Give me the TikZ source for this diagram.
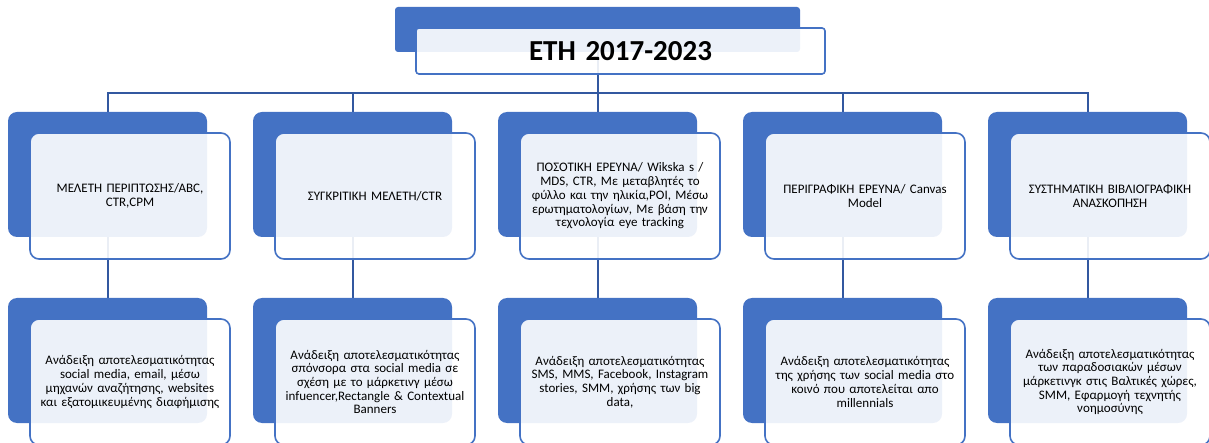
\documentclass[tikz,border=0pt]{standalone}
\usepackage{fontspec}
\setmainfont{Carlito}
\usetikzlibrary{positioning,backgrounds}
\definecolor{accent}{RGB}{68,114,196}
\definecolor{linkblue}{RGB}{50,88,160}

\begin{document}
\begin{tikzpicture}
[x=1pt,y=-1pt,
back/.style={fill=accent,rounded corners=9pt,minimum width=199pt,minimum height=125pt,inner sep=0pt},
front/.style={draw=accent,line width=1.6pt,fill=white,fill opacity=0.9,text opacity=1,rounded corners=9pt,minimum width=200pt,minimum height=126pt,text width=186pt,inner xsep=7pt,align=center,font=\fontsize{13}{13.7}\selectfont},
link/.style={draw=linkblue,line width=2pt},]

\useasboundingbox (0,0) rectangle (1209,443);

%Column centres and rows
\def\ca{107.5}
\def\cb{352.5}
\def\cc{597.5}
\def\cd{842.5}
\def\ce{1087.5}
\def\ra{174.5}
\def\rb{360.5}
\def\dx{22.5}
\def\dy{21.5}

%Title
\node (bt) at (597.5,29.5)[back,minimum width=405pt,minimum height=45pt,rounded corners=3pt] {};
\node (t) at (620.5,51)[front,minimum width=409pt,minimum height=46pt,text width=395pt,rounded corners=3pt,font=\fontsize{29}{32}\selectfont\bfseries] {ETH 2017-2023};

%Methods row
\node (bm1) at (\ca,\ra)[back] {};
\node (m1) at (\ca+\dx,\ra+\dy)[front] {ΜΕΛΕΤΗ ΠΕΡΙΠΤΩΣΗΣ/ABC,\\CTR,CPM};
\node (bm2) at (\cb,\ra)[back] {};
\node (m2) at (\cb+\dx,\ra+\dy)[front] {ΣΥΓΚΡΙΤΙΚΗ ΜΕΛΕΤΗ/CTR};
\node (bm3) at (\cc,\ra)[back] {};
\node (m3) at (\cc+\dx,\ra+\dy)[front] {ΠΟΣΟΤΙΚΗ ΕΡΕΥΝΑ/ Wikska s /\\MDS, CTR, Με μεταβλητές το\\φύλλο και την ηλικία,POI, Μέσω\\ερωτηματολογίων, Με βάση την\\τεχνολογία eye tracking};
\node (bm4) at (\cd,\ra)[back] {};
\node (m4) at (\cd+\dx,\ra+\dy)[front] {ΠΕΡΙΓΡΑΦΙΚΗ ΕΡΕΥΝΑ/ Canvas\\Model};
\node (bm5) at (\ce,\ra)[back] {};
\node (m5) at (\ce+\dx,\ra+\dy)[front] {ΣΥΣΤΗΜΑΤΙΚΗ ΒΙΒΛΙΟΓΡΑΦΙΚΗ\\ΑΝΑΣΚΟΠΗΣΗ};

%Results row
\node (br1) at (\ca,\rb)[back] {};
\node (r1) at (\ca+\dx,\rb+\dy)[front] {Ανάδειξη αποτελεσματικότητας\\social media, email, μέσω\\μηχανών αναζήτησης, websites\\και εξατομικευμένης διαφήμισης};
\node (br2) at (\cb,\rb)[back] {};
\node (r2) at (\cb+\dx,\rb+\dy)[front] {Ανάδειξη αποτελεσματικότητας\\σπόνσορα στα social media σε\\σχέση με το μάρκετινγ μέσω\\infuencer,Rectangle \& Contextual\\Banners};
\node (br3) at (\cc,\rb)[back] {};
\node (r3) at (\cc+\dx,\rb+\dy)[front] {Ανάδειξη αποτελεσματικότητας\\SMS, MMS, Facebook, Instagram\\stories, SMM, χρήσης των big\\data,};
\node (br4) at (\cd,\rb)[back] {};
\node (r4) at (\cd+\dx,\rb+\dy)[front] {Ανάδειξη αποτελεσματικότητας\\της χρήσης των social media στο\\κοινό που αποτελείται απο\\millennials};
\node (br5) at (\ce,\rb)[back] {};
\node (r5) at (\ce+\dx,\rb+\dy)[front] {Ανάδειξη αποτελεσματικότητας\\των παραδοσιακών μέσων\\μάρκετινγκ στις Βαλτικές χώρες,\\SMM, Εφαρμογή τεχνητής\\νοημοσύνης};

%Connectors
\coordinate (bus) at (0,93);
\begin{scope}[on background layer]
\draw[link] (bt.south) -- (bm3.north);
\draw[link] (bm1.north) -- (bm1.north |- bus) -- (bm5.north |- bus) -- (bm5.north);
\draw[link] (bm2.north) -- (bm2.north |- bus);
\draw[link] (bm4.north) -- (bm4.north |- bus);
\draw[link] (bm1.south) -- (br1.north);
\draw[link] (bm2.south) -- (br2.north);
\draw[link] (bm3.south) -- (br3.north);
\draw[link] (bm4.south) -- (br4.north);
\draw[link] (bm5.south) -- (br5.north);
\end{scope}

\end{tikzpicture}
\end{document}
